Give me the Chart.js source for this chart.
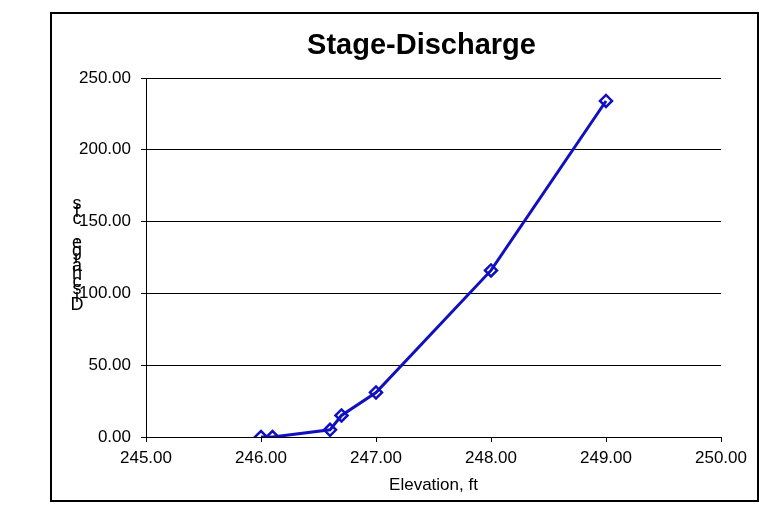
<!DOCTYPE html>
<html>
<head>
<meta charset="utf-8">
<script src="https://cdn.jsdelivr.net/npm/chart.js@4.4.1/dist/chart.umd.min.js"></script>
<style>
  html, body { margin: 0; padding: 0; background: #fff; }
  #wrap { width: 759px; height: 506px; position: relative; }
</style>
</head>
<body>
<div id="wrap"><canvas id="c" width="759" height="506"></canvas></div>
<script>
// Stage-discharge rating: elevation (ft) vs discharge (cfs)
const chartTitle = 'Stage-Discharge';
const xTitle = 'Elevation, ft';
const yTitle = 'Discharge, cfs';
const elevation = [246.0, 246.1, 246.6, 246.7, 247.0, 248.0, 249.0];
const discharge = [0, 0, 5, 15, 31, 116, 234];
const xTicks = [245, 246, 247, 248, 249, 250];
const yTicks = [0, 50, 100, 150, 200, 250];

const FONT = 'Liberation Sans, Arial, sans-serif';
const SERIES = '#1010BE';

// Frame, title and axis titles drawn straight onto the canvas
const decorations = {
  id: 'decorations',
  afterDraw(chart) {
    const ctx = chart.ctx;
    const area = chart.chartArea;
    ctx.save();
    ctx.strokeStyle = '#000';
    ctx.lineWidth = 2;
    ctx.strokeRect(51, 13, 707, 488);

    ctx.fillStyle = '#000';
    ctx.textAlign = 'center';
    ctx.textBaseline = 'alphabetic';
    ctx.font = 'bold 29px ' + FONT;
    ctx.fillText(chartTitle, 421.5, 54);

    ctx.font = '17px ' + FONT;
    ctx.fillText(xTitle, (area.left + area.right) / 2, 490);

    // vertical title: upright letters stacked from the bottom up
    ctx.font = '18px ' + FONT;
    ctx.textBaseline = 'middle';
    const step = 7.77;
    for (let i = 0; i < yTitle.length; i++) {
      ctx.fillText(yTitle[i], 77, 305 - i * step);
    }
    ctx.restore();
  }
};

new Chart(document.getElementById('c'), {
  type: 'scatter',
  data: {
    datasets: [{
      data: elevation.map((e, i) => ({ x: e, y: discharge[i] })),
      showLine: true,
      borderColor: SERIES,
      borderWidth: 3,
      pointStyle: 'rectRot',
      pointRadius: 6,
      pointBorderWidth: 2.5,
      pointBorderColor: SERIES,
      pointBackgroundColor: 'rgba(0,0,0,0)',
      tension: 0
    }]
  },
  options: {
    responsive: false,
    animation: false,
    devicePixelRatio: 1,
    layout: { padding: { left: 0, top: 78, right: 38, bottom: 0 } },
    plugins: {
      legend: { display: false },
      tooltip: { enabled: false },
      title: { display: false }
    },
    scales: {
      x: {
        type: 'linear',
        min: 245,
        max: 250,
        afterBuildTicks(scale) { scale.ticks = xTicks.map(v => ({ value: v })); },
        afterFit(scale) { scale.height = 69; },
        ticks: {
          color: '#000',
          padding: 6,
          maxRotation: 0,
          font: { family: FONT, size: 17 },
          callback: v => Number(v).toFixed(2)
        },
        grid: { drawOnChartArea: false, tickLength: 5, color: '#000', lineWidth: 1 },
        border: { display: true, color: '#000', width: 1 }
      },
      y: {
        type: 'linear',
        min: 0,
        max: 250,
        afterBuildTicks(scale) { scale.ticks = yTicks.map(v => ({ value: v })); },
        afterFit(scale) { scale.width = 146; },
        ticks: {
          color: '#000',
          padding: 10,
          font: { family: FONT, size: 17 },
          callback: v => Number(v).toFixed(2)
        },
        grid: { drawOnChartArea: true, tickLength: 5, color: '#000', lineWidth: 1 },
        border: { display: true, color: '#000', width: 1 }
      }
    }
  },
  plugins: [decorations]
});
</script>
</body>
</html>
